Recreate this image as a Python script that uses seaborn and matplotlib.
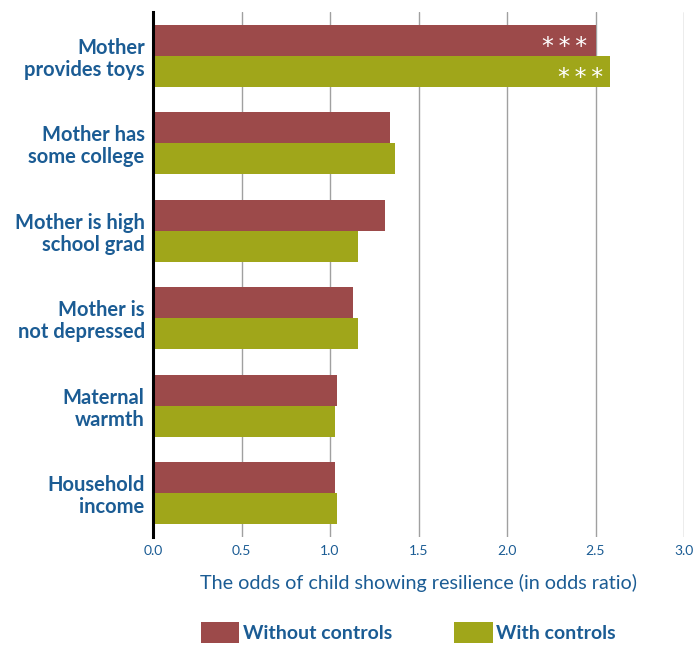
import matplotlib
matplotlib.use("Agg")
import matplotlib.pyplot as plt
import seaborn as sns
import pandas as pd
from matplotlib.patches import Patch

categories = ["Mother\nprovides toys", "Mother has\nsome college", "Mother is high\nschool grad",
              "Mother is\nnot depressed", "Maternal\nwarmth", "Household\nincome"]
without_controls = [2.50, 1.34, 1.31, 1.13, 1.04, 1.03]
with_controls = [2.58, 1.37, 1.16, 1.16, 1.03, 1.04]
series_names = ["Without controls", "With controls"]
significance_without = ["***", "", "", "", "", ""]
significance_with = ["***", "", "", "", "", ""]
xticks = [0.0, 0.5, 1.0, 1.5, 2.0, 2.5, 3.0]

RED = "#9C4A4A"
GREEN = "#A0A61A"
BLUE = "#1B5C94"

df = pd.DataFrame({
    "category": categories * 2,
    "value": without_controls + with_controls,
    "series": [series_names[0]] * len(categories) + [series_names[1]] * len(categories),
})

sns.set_style("white")
plt.rcParams['font.family'] = ['Lato', 'DejaVu Sans']

fig = plt.figure(figsize=(6.96, 6.45), dpi=100)
ax = fig.add_axes([153/696, 1-537/645, (684-153)/696, (537-12)/645])

sns.barplot(data=df, y="category", x="value", hue="series", orient="h",
            palette=[RED, GREEN], saturation=1, width=0.71, dodge=True,
            legend=False, ax=ax, linewidth=0, edgecolor="none")

ax.set_xlim(0, 3.0)
ax.set_ylim(5.5, -0.5)
ax.set_xticks(xticks)
ax.set_xticklabels([f"{t:.1f}" for t in xticks], color=BLUE, fontsize=10)
ax.xaxis.grid(True, color="#a0a0a0", linewidth=1)
ax.set_axisbelow(True)
ax.tick_params(axis="x", length=0, pad=6)
ax.tick_params(axis="y", length=0, pad=6)
for lbl in ax.get_yticklabels():
    lbl.set_fontweight("bold")
    lbl.set_color(BLUE)
    lbl.set_fontsize(14.5)
    lbl.set_linespacing(1.12)
    lbl.set_horizontalalignment("right")

for s in ["top", "right", "bottom"]:
    ax.spines[s].set_visible(False)
ax.spines["left"].set_color("black")
ax.spines["left"].set_linewidth(2.2)

ax.set_ylabel("")
ax.set_xlabel("The odds of child showing resilience (in odds ratio)", color=BLUE,
              fontsize=14.2, labelpad=12)

# significance markers
off = 0.355 / 2
sep = "\u2009"
for i, (v, s) in enumerate(zip(without_controls, significance_without)):
    if s:
        ax.annotate(sep.join(s), xy=(v, i - off), xytext=(-6, -5), textcoords="offset points",
                    color="white", fontsize=17, ha="right", va="center",
                    family="DejaVu Sans")
for i, (v, s) in enumerate(zip(with_controls, significance_with)):
    if s:
        ax.annotate(sep.join(s), xy=(v, i + off), xytext=(-5, -5), textcoords="offset points",
                    color="white", fontsize=17, ha="right", va="center",
                    family="DejaVu Sans")

handles = [Patch(facecolor=RED, edgecolor="none"), Patch(facecolor=GREEN, edgecolor="none")]
leg = fig.legend(handles, series_names, loc="lower left", bbox_to_anchor=(201/696, 2/645),
                 ncol=2, frameon=False, handlelength=1.96, handleheight=1.3,
                 columnspacing=3.2, handletextpad=0.2, borderpad=0, borderaxespad=0,
                 prop={"weight": "bold", "size": 14})
for t in leg.get_texts():
    t.set_color(BLUE)

fig.savefig("out.png", dpi=100)
